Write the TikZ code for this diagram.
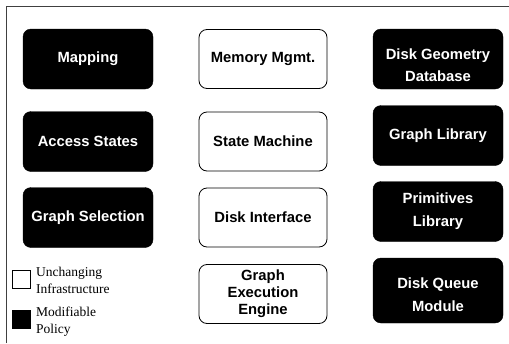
\documentclass[tikz,border=0pt]{standalone}
\usepackage{fontspec}
\setmainfont{Liberation Serif}
\newfontfamily\boxfont{Liberation Sans}
\begin{document}
\begin{tikzpicture}[x=1pt,y=-1pt,
  modbox/.style={rectangle, rounded corners=8pt, fill=black, draw=black,
    text=white, minimum width=130pt, minimum height=60pt, inner sep=0pt,
    align=center, font=\boxfont\bfseries\fontsize{14.8}{23}\selectfont},
  fixbox/.style={rectangle, rounded corners=8pt, fill=white, draw=black,
    line width=0.8pt, text=black, minimum width=128pt, minimum height=59pt,
    inner sep=0pt, align=center, font=\boxfont\bfseries\fontsize{14.8}{17}\selectfont},
  % caption set a little below the centre of its box
  lowtext/.style={text=white, inner sep=0pt, align=center,
    font=\boxfont\bfseries\fontsize{14.8}{22.5}\selectfont, yshift=#1},
  keybox/.style={rectangle, draw=black, line width=0.8pt, minimum size=18pt, inner sep=0pt},
  keytext/.style={anchor=west, align=left, inner sep=0pt,
    font=\fontsize{13.5}{17}\selectfont}]
\useasboundingbox (0,0) rectangle (509,343);
% outer frame (only the top and left edges fall inside the page)
\draw[line width=0.9pt, black!75] (6,343) -- (6,6.5) -- (509,6.5);

% policy modules, left column
\node[modbox] (map) at (88,59) {Mapping};
\node[modbox] (acc) at (88,141.5) {Access States};
\node[modbox] (gsel) at (88,217.5) {Graph Selection};

% infrastructure, middle column
\node[fixbox] (mem) at (263,59) {Memory Mgmt.};
\node[fixbox] (sm) at (263,141.5) {State Machine};
\node[fixbox] (di) at (263,217.5) {Disk Interface};
\node[fixbox] (gee) at (263,294) {Graph\\Execution\\Engine};

% policy modules, right column
\node[modbox, label={[lowtext=-6pt]center:{Disk Geometry\\Database}}] (dgd) at (438,59) {};
\node[modbox] (glib) at (438,135.5) {Graph Library};
\node[modbox] (plib) at (438,211.5) {Primitives\\Library};
\node[modbox, minimum height=65pt, label={[lowtext=-4pt]center:{Disk Queue\\Module}}] (dqm) at (438,290.5) {};

% legend
\node[keybox, fill=white] (kfix) at (21,279) {};
\node[keytext] (tfix) at (36,280) {Unchanging\\Infrastructure};
\node[keybox, fill=black] (kmod) at (21,319.5) {};
\node[keytext] (tmod) at (36,321.5) {Modifiable\\Policy};
\end{tikzpicture}
\end{document}
